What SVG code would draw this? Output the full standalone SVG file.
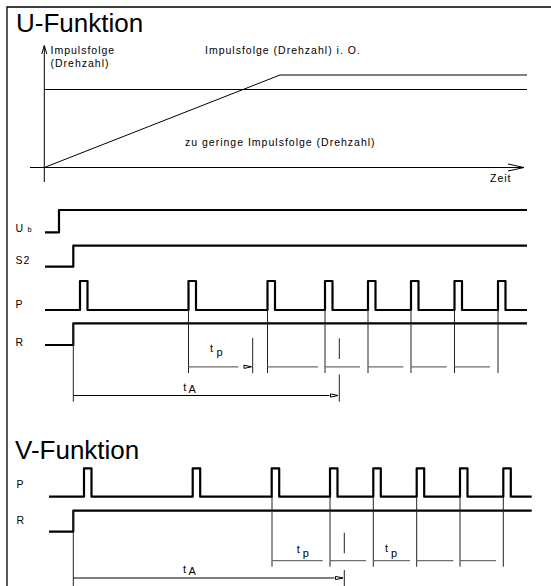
<svg xmlns="http://www.w3.org/2000/svg" width="551" height="586" viewBox="0 0 551 586">
<style>
.t{font-family:"Liberation Sans",Arial,sans-serif;fill:#000}
.title{font-size:26px}
.lbl{font-size:10.5px;letter-spacing:1px}
.sm{font-size:11px}
.sub{font-size:11px}
.thin{fill:none;stroke:#000;stroke-width:1}
.sig{fill:none;stroke:#000;stroke-width:2.2;stroke-linejoin:round}
.dim{fill:none;stroke:#6e6e6e;stroke-width:1.3}
.vl{fill:none;stroke:#222;stroke-width:1}
.ah{fill:#fff;stroke:#000;stroke-width:1}
</style>
<rect width="551" height="586" fill="#fff"/>
<path id="frame" d="M7,586 V7 H551" fill="none" stroke="#000" stroke-width="1.3"/>

<g id="u-title"><text class="t title" x="16" y="32">U-Funktion</text></g>

<g id="chart">
  <path class="thin" d="M44.3,182 V46"/>
  <path class="thin" d="M41.8,54 L44.3,45.5 L46.8,54"/>
  <path class="thin" d="M30,167.5 H524"/>
  <path class="thin" d="M508,164 L524,167.5 L508,171"/>
  <path class="thin" d="M44.3,89.5 H527"/>
  <path class="thin" d="M44.3,167.5 L280,75 H527"/>
  <text class="t lbl" x="50.5" y="53.5">Impulsfolge</text>
  <text class="t lbl" x="50.5" y="66.5">(Drehzahl)</text>
  <text class="t lbl" x="205" y="53.5">Impulsfolge (Drehzahl) i. O.</text>
  <text class="t lbl" x="185" y="146">zu geringe Impulsfolge (Drehzahl)</text>
  <text class="t lbl" x="490" y="181.5">Zeit</text>
</g>

<g id="u-signals">
  <text class="t lbl" x="15.5" y="232">U</text>
  <text class="t" x="27.5" y="231.5" style="font-size:7.5px">b</text>
  <text class="t lbl" x="15.5" y="264">S2</text>
  <text class="t lbl" x="15.5" y="308">P</text>
  <text class="t lbl" x="15.5" y="345.5">R</text>
  <path class="sig" d="M45,232.3 H59 V210 H527"/>
  <path class="sig" d="M45,266.7 H73.3 V245.7 H527"/>
  <path class="sig" d="M45,310 H80 V281 H87.5 V310 H188.5 V281 H196 V310 H267.5 V281 H275 V310 H325 V281 H332.5 V310 H368 V281 H375.5 V310 H411 V281 H418.5 V310 H454.5 V281 H462 V310 H498 V281 H505.5 V310 H527"/>
  <path class="sig" d="M45,345 H73.3 V323.3 H527"/>
</g>

<g id="u-dimensions">
  <path class="vl" d="M73.3,323 V401.7 M188.5,310 V373 M267.5,310 V373 M325,310 V373 M368,310 V373 M411,310 V373 M454.5,310 V373 M498,310 V373"/>
  <path class="dim" d="M188.5,366.8 H238.3 M267.5,366.8 H318 M325,366.8 H360 M368,366.8 H403.3 M411,366.8 H446.7 M454.5,366.8 H490"/>
  <path class="vl" d="M252.7,338 V373.3 M339.3,338.3 V359 M339.3,374.5 V401.7"/>
  <polygon class="ah" points="244,365.2 251.5,366.8 244,368.4"/>
  <path class="thin" d="M73.3,395.5 H329.5"/>
  <polygon class="ah" points="330.5,393.9 338,395.5 330.5,397.1"/>
  <text class="t sm" x="210" y="351.7">t</text>
  <text class="t sub" x="216.5" y="355.5">p</text>
  <text class="t sm" x="183.3" y="390.7">t</text>
  <text class="t sub" x="188.5" y="392.7">A</text>
</g>

<g id="v-title"><text class="t title" x="15" y="459.3">V-Funktion</text></g>

<g id="v-signals">
  <text class="t lbl" x="16.5" y="488">P</text>
  <text class="t lbl" x="16.5" y="524">R</text>
  <path class="sig" d="M49,496.7 H84 V468.3 H91.5 V496.7 H192.7 V468.3 H200.2 V496.7 H271.7 V468.3 H279.2 V496.7 H330 V468.3 H337.5 V496.7 H373.3 V468.3 H380.8 V496.7 H416.7 V468.3 H424.2 V496.7 H460 V468.3 H467.5 V496.7 H503.3 V468.3 H510.8 V496.7 H531.7"/>
  <path class="sig" d="M49,531.7 H73.3 V510.7 H531.7"/>
</g>

<g id="v-dimensions">
  <path class="vl" d="M73.3,510.5 V586 M272,496.7 V566.7 M330,496.7 V566.7 M373.3,496.7 V566.7 M416.7,496.7 V566.7 M460,496.7 V566.7 M503.3,496.7 V566.7"/>
  <path class="dim" d="M272,560.6 H322.7 M330,560.6 H366 M373.3,560.6 H410 M416.7,560.6 H453.3 M460,560.6 H496"/>
  <path class="vl" d="M344.3,532.7 V553.3 M344.3,570 V586"/>
  <path class="thin" d="M73.3,578 H334.5"/>
  <polygon class="ah" points="335.5,576.4 343,578 335.5,579.6"/>
  <text class="t sm" x="296.7" y="552.5">t</text>
  <text class="t sub" x="302.7" y="557">p</text>
  <text class="t sm" x="385" y="552">t</text>
  <text class="t sub" x="391" y="556.5">p</text>
  <text class="t sm" x="183" y="573">t</text>
  <text class="t sub" x="188.5" y="575">A</text>
</g>
</svg>
